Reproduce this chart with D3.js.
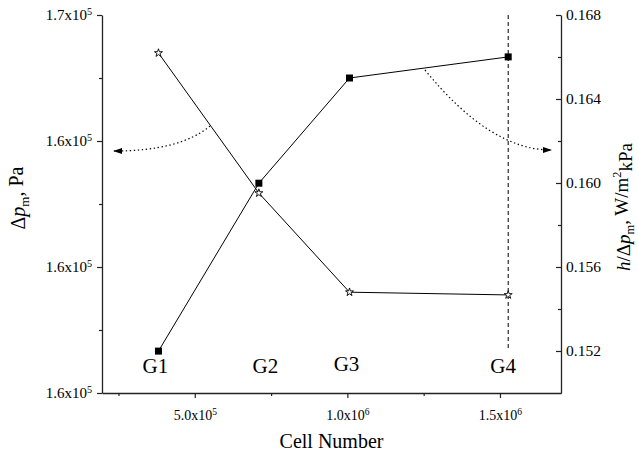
<!DOCTYPE html>
<html>
<head>
<meta charset="utf-8">
<script src="https://cdn.jsdelivr.net/npm/d3@7"></script>
<style>
  body { margin: 0; background: #fff; }
  svg { display: block; }
  svg text { font-family: "Liberation Serif", "Times New Roman", serif; }
</style>
</head>
<body>
<svg id="chart" width="638" height="455"></svg>
<script>
// grid study data
const gridNames = ["G1", "G2", "G3", "G4"];
const cellCount = [3.81e5, 7.10e5, 1.007e6, 1.527e6];
const pressureDrop = [1.5733e5, 1.6266e5, 1.6600e5, 1.6667e5];   // left axis
const htcRatio = [0.16619, 0.15952, 0.15480, 0.15467];            // right axis

const xMajor = [5e5, 1e6, 1.5e6];
const xMinor = [2.5e5, 7.5e5, 1.25e6];
const leftMajor = [1.56e5, 1.60e5, 1.64e5, 1.68e5];
const leftMinor = [1.58e5, 1.62e5, 1.66e5];
const rightMajor = [0.152, 0.156, 0.160, 0.164, 0.168];
const rightMinor = [0.154, 0.158, 0.162, 0.166];

const FONT = "'Liberation Serif', 'Times New Roman', serif";
const svg = d3.select("#chart");
const margin = { top: 15, right: 77, bottom: 62, left: 102 };
const W = 638, H = 455;
const plotW = W - margin.left - margin.right;
const plotH = H - margin.top - margin.bottom;

const x = d3.scaleLinear().domain([1.96e5, 1.7e6]).range([0, plotW]);
const yL = d3.scaleLinear().domain([1.56e5, 1.68e5]).range([plotH, 0]);
const yR = d3.scaleLinear().domain([0.150, 0.168]).range([plotH, 0]);

const g = svg.append("g").attr("transform", `translate(${margin.left},${margin.top})`);

// put "a x10^b" into a text node
function sciLabel(sel, mant, exp) {
  sel.text(null);
  sel.append("tspan").text(mant + "x10");
  sel.append("tspan").attr("dy", "-0.5em").attr("font-size", "0.68em").text(exp);
}

// ---- axes
const axisStyle = s => {
  s.attr("font-family", FONT);
  s.select(".domain").attr("stroke", "#222").attr("stroke-width", 1.3);
  s.selectAll(".tick line").attr("stroke", "#222").attr("stroke-width", 1.2);
};

// bottom
const gx = g.append("g").attr("transform", `translate(0,${plotH})`)
  .call(d3.axisBottom(x).tickValues(xMajor).tickSize(5).tickSizeOuter(0))
  .call(axisStyle);
gx.selectAll(".tick text")
  .attr("font-size", 14).attr("fill", "#000")
  .attr("y", 27).attr("dy", 0)
  .each(function(d) {
    const e = Math.floor(Math.log10(d) + 1e-9);
    sciLabel(d3.select(this), (d / Math.pow(10, e)).toFixed(1), e);
  });
g.append("g").attr("transform", `translate(0,${plotH})`)
  .call(d3.axisBottom(x).tickValues(xMinor).tickSize(3).tickFormat(""))
  .call(s => s.select(".domain").remove())
  .call(axisStyle);

// left
const gl = g.append("g")
  .call(d3.axisLeft(yL).tickValues(leftMajor).tickSize(5).tickPadding(5).tickSizeOuter(0))
  .call(axisStyle);
gl.selectAll(".tick text")
  .attr("font-size", 15).attr("fill", "#000")
  .each(function(d) {
    sciLabel(d3.select(this), (d / 1e5).toFixed(1), 5);
  });
g.append("g")
  .call(d3.axisLeft(yL).tickValues(leftMinor).tickSize(3).tickFormat(""))
  .call(s => s.select(".domain").remove())
  .call(axisStyle);

// right (ticks point inward)
const gr = g.append("g").attr("transform", `translate(${plotW},0)`)
  .call(d3.axisRight(yR).tickValues(rightMajor).tickSizeInner(-5).tickSizeOuter(0)
    .tickPadding(5).tickFormat(d3.format(".3f")))
  .call(axisStyle);
gr.selectAll(".tick text").attr("font-size", 15.5).attr("fill", "#000");
g.append("g").attr("transform", `translate(${plotW},0)`)
  .call(d3.axisRight(yR).tickValues(rightMinor).tickSizeInner(-3).tickSizeOuter(0).tickFormat(""))
  .call(s => s.select(".domain").remove())
  .call(axisStyle);

// ---- axis titles
svg.append("text")
  .attr("x", margin.left + plotW / 2).attr("y", 448)
  .attr("text-anchor", "middle").attr("font-size", 20).attr("font-family", FONT)
  .text("Cell Number");

const tl = svg.append("text")
  .attr("transform", "translate(25,198) rotate(-90)")
  .attr("text-anchor", "middle").attr("font-size", 20).attr("font-family", FONT);
tl.append("tspan").text("\u0394");
tl.append("tspan").attr("font-style", "italic").text("p");
tl.append("tspan").attr("font-size", "0.65em").attr("dy", "0.3em").text("m");
tl.append("tspan").attr("dy", "-0.3em").text(", Pa");

const tr = svg.append("text")
  .attr("transform", "translate(630,207) rotate(-90)")
  .attr("text-anchor", "middle").attr("font-size", 19).attr("font-family", FONT);
tr.append("tspan").attr("font-style", "italic").text("h");
tr.append("tspan").text("/\u0394");
tr.append("tspan").attr("font-style", "italic").text("p");
tr.append("tspan").attr("font-size", "0.65em").attr("dy", "0.3em").text("m");
tr.append("tspan").attr("dy", "-0.3em").text(", W/m");
tr.append("tspan").attr("font-size", "0.65em").attr("dy", "-0.55em").text("2");
tr.append("tspan").attr("dy", "0.55em").text("kPa");

// ---- annotations: dashed marker line at G4, curved arrows
svg.append("defs").append("marker")
  .attr("id", "head").attr("viewBox", "0 -4 9 8")
  .attr("refX", 8).attr("refY", 0)
  .attr("markerWidth", 9).attr("markerHeight", 8)
  .attr("markerUnits", "userSpaceOnUse").attr("orient", "auto")
  .append("path").attr("d", "M0,-3L9,0L0,3Z").attr("fill", "#000");

g.append("line")
  .attr("x1", x(cellCount[3])).attr("x2", x(cellCount[3]))
  .attr("y1", 0).attr("y2", 333)
  .attr("stroke", "#000").attr("stroke-width", 1).attr("stroke-dasharray", "4,3");

svg.append("path")
  .attr("d", "M210,126 Q180,151 114,151")
  .attr("fill", "none").attr("stroke", "#000").attr("stroke-width", 1.2)
  .attr("stroke-dasharray", "1.4,2.6").attr("marker-end", "url(#head)");
svg.append("path")
  .attr("d", "M425,70 Q490,150 551,150")
  .attr("fill", "none").attr("stroke", "#000").attr("stroke-width", 1.2)
  .attr("stroke-dasharray", "1.4,2.6").attr("marker-end", "url(#head)");

// ---- series
const idx = d3.range(cellCount.length);
const lineL = d3.line().x(i => x(cellCount[i])).y(i => yL(pressureDrop[i]));
const lineR = d3.line().x(i => x(cellCount[i])).y(i => yR(htcRatio[i]));

g.append("path").attr("d", lineL(idx)).attr("fill", "none").attr("stroke", "#000").attr("stroke-width", 1);
g.append("path").attr("d", lineR(idx)).attr("fill", "none").attr("stroke", "#000").attr("stroke-width", 1);

g.selectAll(".sq").data(idx).join("path")
  .attr("transform", i => `translate(${x(cellCount[i])},${yL(pressureDrop[i])})`)
  .attr("d", d3.symbol(d3.symbolSquare, 49))
  .attr("fill", "#000");

g.selectAll(".st").data(idx).join("path")
  .attr("transform", i => `translate(${x(cellCount[i])},${yR(htcRatio[i])})`)
  .attr("d", d3.symbol(d3.symbolStar, 20))
  .attr("fill", "#fff").attr("stroke", "#000").attr("stroke-width", 0.9);

// ---- grid labels
const labelShift = [-3, 6.5, -3, -5];
const labelBase = [358, 358, 356, 358];
g.selectAll(".gl").data(idx).join("text")
  .attr("x", i => x(cellCount[i]) + labelShift[i])
  .attr("y", i => labelBase[i])
  .attr("text-anchor", "middle").attr("font-size", 21).attr("font-family", FONT)
  .text(i => gridNames[i]);
</script>
</body>
</html>
